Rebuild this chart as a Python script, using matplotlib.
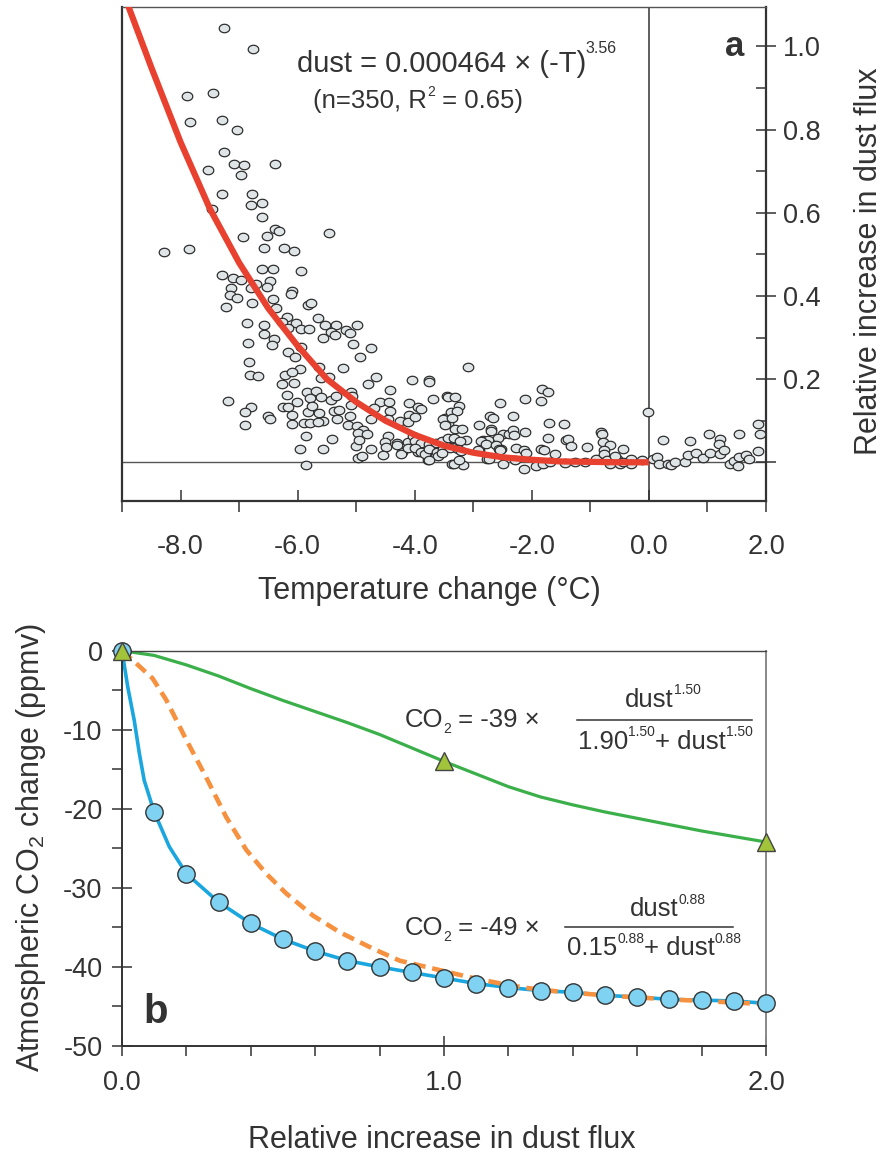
import numpy as np
import matplotlib
matplotlib.use('Agg')
import matplotlib.pyplot as plt
from matplotlib.transforms import ScaledTranslation

plt.rcParams['font.family'] = ['Liberation Sans', 'DejaVu Sans']
plt.rcParams['mathtext.fontset'] = 'custom'
plt.rcParams['mathtext.rm'] = 'Liberation Sans'
plt.rcParams['mathtext.default'] = 'regular'
plt.rcParams['text.color'] = '#333333'
plt.rcParams['xtick.color'] = '#333333'
plt.rcParams['ytick.color'] = '#333333'

temp_obs = [
    -7.25, -6.76, -7.89, -7.44, -7.83, -7.30, -7.03, -7.26, -7.08, -6.91,
    -6.39, -7.53, -6.96, -7.30, -6.78, -6.80, -6.60, -7.47, -6.60, -6.39,
    -6.31, -5.46, -6.94, -6.53, -8.29, -7.85, -6.57, -6.23, -6.07,
    -6.60, -6.42, -5.94, -7.30, -7.10, -6.96, -6.47, -6.71, -7.14, -6.80,
    -6.52, -6.09, -6.11, -7.16, -7.03, -6.42, -6.78, -5.82, -5.77, -7.23,
    -6.37, -5.66, -6.18, -6.87, -6.57, -6.26, -6.03, -6.16, -5.94, -5.80,
    -5.53, -5.34, -4.98, -5.43, -5.37, -5.57, -5.17, -5.10, -6.58, -6.41,
    -6.44, -6.84, -5.05, -4.75, -5.94, -6.16, -6.04, -4.93, -6.83, -5.96,
    -5.63, -5.23, -6.82, -6.68, -6.21, -6.10, -6.26, -6.07, -5.60, -5.46,
    -4.66, -4.80, -4.05, -3.76, -4.42, -5.84, -5.68, -6.18, -5.79, -5.60,
    -5.43, -5.34, -5.09, -5.07, -7.19, -6.01, -5.09, -4.59, -4.44, -4.09,
    -3.95, -3.69, -3.45, -6.80, -6.90, -6.25, -6.17, -5.83, -5.75, -5.38,
    -5.30, -5.64, -4.43, -4.70, -4.09, -3.89, -6.50, -6.47, -6.10, -5.10,
    -5.33, -5.57, -4.74, -4.45, -4.26, -4.12, -3.49, -3.43, -6.90, -6.10,
    -5.89, -5.79, -5.66, -5.14, -4.99, -4.89, -4.97, -4.82, -5.85, -5.41,
    -4.46, -4.50, -4.31, -4.12, -3.98, -5.00, -4.74, -4.49, -4.21, -3.95,
    -3.78, -5.96, -5.57, -4.54, -4.97, -3.78, -3.61, -5.85,
    -3.09, -3.75, -1.82, -1.73, -3.43, -3.31, -2.12, -1.85, -2.55, -3.25,
    -3.38, -3.27, -2.72, -2.66, -2.32, -3.52, -3.36, -3.48, -2.90, -2.69,
    -2.70, -3.32, -3.20, -1.70, -1.45, -2.12, -2.50, -2.39, -2.32, -2.58,
    -2.83, -2.74, -3.12, -1.72, -1.42, -1.38, -1.33, -0.82, -0.80, -0.79,
    -0.66, -1.05, -0.76, -0.45, -2.53, -2.27, -2.14, -1.85, -1.79, -1.61,
    -2.10, -2.90, -3.36, -3.78, -3.64, -2.77, -2.49, -3.36, -3.18, -2.14,
    -1.93, -1.81, -1.44, -1.27, -1.10, -0.90, -0.67, -0.55, -0.50, -0.30,
    -0.30, -0.01, 0.07, 0.13, 0.24, 0.17, 0.33, 0.38, 0.45, 0.61,
    0.66, 0.81, 0.70, 0.92, 1.02, 1.05, 1.21, 1.20, 1.21, 1.28,
    1.38, 1.45, 1.52, 1.54, 1.54, 1.66, 1.71, 1.86, 1.89, 1.87,
    -4.00, -4.95, -4.03, -4.00, -3.89, -3.76, -3.63, -3.53, -3.43, -3.33,
    -3.23, -4.30, -4.23, -4.12, -3.99, -3.89, -3.83, -3.75, -3.62, -3.52,
    -3.39, -3.26, -3.21, -2.92, -2.86, -2.79, -2.61, -2.56, -4.90, -3.61,
    -3.53, -3.75, -3.33, -3.25, -2.73, -2.31, -0.77, -2.55, -2.28, -1.69,
    -0.72, -0.58, -0.44, -0.12,
]
dust_obs = [
    1.045, 0.995, 0.880, 0.887, 0.819, 0.822, 0.800, 0.747, 0.717, 0.714,
    0.718, 0.703, 0.690, 0.646, 0.646, 0.618, 0.624, 0.610, 0.590, 0.560,
    0.556, 0.552, 0.541, 0.544, 0.505, 0.514, 0.516, 0.516, 0.509,
    0.466, 0.466, 0.461, 0.450, 0.444, 0.438, 0.436, 0.428, 0.419, 0.419,
    0.421, 0.412, 0.404, 0.403, 0.394, 0.392, 0.382, 0.378, 0.382, 0.373,
    0.372, 0.346, 0.350, 0.334, 0.331, 0.337, 0.334, 0.323, 0.320, 0.320,
    0.329, 0.331, 0.331, 0.313, 0.305, 0.300, 0.318, 0.311, 0.309, 0.296,
    0.281, 0.287, 0.284, 0.276, 0.278, 0.265, 0.252, 0.252, 0.240, 0.224,
    0.228, 0.227, 0.210, 0.207, 0.210, 0.217, 0.188, 0.190, 0.202, 0.204,
    0.205, 0.189, 0.197, 0.197, 0.175, 0.169, 0.171, 0.161, 0.154, 0.157,
    0.150, 0.160, 0.170, 0.160, 0.147, 0.144, 0.137, 0.146, 0.144, 0.142,
    0.134, 0.152, 0.160, 0.133, 0.122, 0.133, 0.133, 0.122, 0.136, 0.123,
    0.125, 0.118, 0.124, 0.130, 0.114, 0.128, 0.112, 0.104, 0.114, 0.112,
    0.103, 0.100, 0.103, 0.103, 0.100, 0.097, 0.106, 0.094, 0.090, 0.092,
    0.094, 0.094, 0.097, 0.090, 0.088, 0.078, 0.070, 0.068, 0.064, 0.056,
    0.062, 0.049, 0.046, 0.049, 0.049, 0.038, 0.031, 0.036, 0.024, 0.025,
    0.036, 0.031, 0.031, 0.018, 0.010, 0.006, 0.018, -0.007,
    0.230, 0.194, 0.176, 0.168, 0.156, 0.156, 0.153, 0.147, 0.142, 0.136,
    0.120, 0.123, 0.112, 0.106, 0.112, 0.104, 0.106, 0.090, 0.090, 0.081,
    0.075, 0.080, 0.081, 0.094, 0.091, 0.072, 0.067, 0.067, 0.077, 0.058,
    0.053, 0.053, 0.054, 0.058, 0.053, 0.057, 0.038, 0.072, 0.069, 0.049,
    0.041, 0.037, 0.029, 0.033, 0.033, 0.034, 0.030, 0.033, 0.030, 0.021,
    0.023, 0.030, 0.037, 0.017, 0.017, 0.007, -0.003, -0.003, -0.006, -0.015,
    -0.008, -0.003, -0.002, 0.000, 0.000, 0.008, -0.003, 0.008, -0.003, 0.008,
    -0.003, 0.120, 0.008, 0.013, 0.053, -0.005, -0.003, -0.007, 0.000, 0.000,
    0.017, 0.023, 0.050, 0.011, 0.067, 0.023, 0.057, 0.045, 0.021, 0.029,
    -0.005, 0.003, -0.010, 0.067, 0.013, 0.017, 0.008, 0.091, 0.067, 0.027,
    0.108, 0.053, 0.064, 0.052, 0.047, 0.044, 0.046, 0.050, 0.058, 0.059,
    0.052, 0.042, 0.020, 0.034, 0.034, 0.025, 0.019, 0.033, 0.025, 0.033,
    0.035, 0.031, 0.027, 0.029, 0.050, 0.043, 0.041, 0.033, 0.014, 0.015,
    0.022, 0.006, -0.005, 0.006, 0.009, 0.065, 0.021, 0.029, 0.005, 0.001,
    0.006, 0.014, 0.001, 0.005,
]

# power-law fit
fit_temp = [-8.9, -8.5, -8.0, -7.5, -7.0, -6.5, -6.0, -5.5, -5.0, -4.5,
            -4.0, -3.5, -3.0, -2.5, -2.0, -1.5, -1.0, -0.5, 0.0]
fit_dust = [1.10, 0.95, 0.77, 0.61, 0.48, 0.37, 0.28, 0.20, 0.145, 0.10,
            0.066, 0.040, 0.023, 0.012, 0.006, 0.002, 0.001, 0.0, 0.0]

# ---- panel b: CO2 response to dust
blue_line_x = [0.0, 0.018, 0.038, 0.054, 0.069, 0.1, 0.147, 0.2, 0.3, 0.4, 0.5,
               0.6, 0.7, 0.8, 0.9, 1.0, 1.1, 1.2, 1.3, 1.4, 1.5, 1.6, 1.7,
               1.8, 1.9, 2.0]
blue_line_y = [0.0, -4.6, -8.8, -13.0, -16.4, -20.4, -24.8, -28.2, -31.8, -34.5,
               -36.5, -38.0, -39.2, -40.0, -40.7, -41.4, -42.1, -42.6, -43.0,
               -43.2, -43.6, -43.8, -44.1, -44.2, -44.3, -44.6]
circle_x = [0.0, 0.1, 0.2, 0.3, 0.4, 0.5, 0.6, 0.7, 0.8, 0.9, 1.0,
            1.1, 1.2, 1.3, 1.4, 1.5, 1.6, 1.7, 1.8, 1.9, 2.0]
circle_y = [0.0, -20.4, -28.2, -31.8, -34.5, -36.5, -38.0, -39.2, -40.0, -40.7,
            -41.4, -42.1, -42.6, -43.0, -43.2, -43.6, -43.8, -44.1, -44.2,
            -44.3, -44.6]
green_x = [0.0, 0.1, 0.2, 0.3, 0.4, 0.5, 0.6, 0.7, 0.8, 0.9, 1.0,
           1.1, 1.2, 1.3, 1.4, 1.5, 1.6, 1.7, 1.8, 1.9, 2.0]
green_y = [0.0, -0.6, -1.8, -3.2, -4.8, -6.3, -7.7, -9.1, -10.6, -12.3, -14.0,
           -15.6, -17.2, -18.5, -19.5, -20.4, -21.2, -22.0, -22.8, -23.5, -24.2]
triangle_x = [0.0, 1.0, 2.0]
triangle_y = [0.0, -14.0, -24.2]
orange_x = [0.0, 0.044, 0.095, 0.137, 0.2, 0.26, 0.323, 0.386, 0.448, 0.51,
            0.593, 0.676, 0.78, 0.862, 0.966, 1.08, 1.2, 1.3, 1.5, 1.7, 2.0]
orange_y = [0.0, -1.6, -3.5, -6.2, -11.3, -15.9, -21.0, -25.2, -28.2, -30.7,
            -33.5, -35.6, -37.7, -39.2, -40.2, -41.3, -42.3, -42.9, -43.6,
            -44.1, -44.7]

dark = '#333333'
tick_size = 19.5
label_size = 22

fig = plt.figure(figsize=(8.82, 11.58), dpi=100)
ax_a = fig.add_axes([0.1383, 0.5674, 0.7302, 0.4266])
ax_b = fig.add_axes([0.1383, 0.0967, 0.7302, 0.3414])
renderer = fig.canvas.get_renderer()


def rich_text(ax, x, y, parts, ha='left'):
    """Pieces of text (string, size, rise in pt) laid out one after another
    on a shared baseline, so super/subscripts can be smaller than mathtext's."""
    items = []
    for s, size, rise in parts:
        t = ax.text(x, y, s, fontsize=size, ha='left', va='baseline')
        items.append((t, rise, t.get_window_extent(renderer).width))
    total = sum(w for _, _, w in items)
    shift = -total / 2 if ha == 'center' else 0.0
    for t, rise, w in items:
        t.set_transform(ax.transData + ScaledTranslation(
            shift / fig.dpi, rise / 72, fig.dpi_scale_trans))
        shift += w


# ----------------------------------------------------------------- panel a
theta = np.linspace(0, 2 * np.pi, 41)
ellipse = np.column_stack([np.cos(theta), 0.8 * np.sin(theta)])

ax_a.axhline(0, color='#555555', lw=1.0, zorder=1)
ax_a.axvline(0, color=dark, lw=1.1, zorder=1)
ax_a.scatter(temp_obs, dust_obs, marker=ellipse, s=58, facecolor='#dfe4e7',
             edgecolor='#2f2f2f', linewidths=0.9, zorder=3)
ax_a.plot(fit_temp, fit_dust, color='#e8412f', lw=4.5, zorder=4,
          solid_capstyle='butt')

ax_a.set_xlim(-9, 2)
ax_a.set_ylim(-0.093, 1.095)

ax_a.yaxis.tick_right()
ax_a.set_yticks([0, 0.2, 0.4, 0.6, 0.8, 1.0])
ax_a.set_yticklabels(['', '0.2', '0.4', '0.6', '0.8', '1.0'])
ax_a.set_yticks([0.1, 0.3, 0.5, 0.7, 0.9], minor=True)
ax_a.tick_params(axis='y', which='major', direction='inout', length=14,
                 width=1.1, pad=5, labelsize=tick_size)
ax_a.tick_params(axis='y', which='minor', direction='in', length=7, width=1.1)

ax_a.xaxis.remove_overlapping_locs = False
ax_a.set_xticks([-8, -6, -4, -2, 0, 2])
ax_a.set_xticklabels(['-8.0', '-6.0', '-4.0', '-2.0', '0.0', '2.0'])
ax_a.set_xticks([-9, -7, -5, -3, -1, 1, 2], minor=True)
ax_a.tick_params(axis='x', which='major', direction='in', length=8,
                 width=1.1, pad=24, labelsize=tick_size)
ax_a.tick_params(axis='x', which='minor', direction='out', length=8, width=1.1)

for side in ['left', 'bottom', 'right']:
    ax_a.spines[side].set_color(dark)
    ax_a.spines[side].set_linewidth(1.6)
ax_a.spines['top'].set_color('#555555')
ax_a.spines['top'].set_linewidth(1.0)

rich_text(ax_a, -3.28, 0.9375,
          [('dust = 0.000464 × (-T)', 21, 0), ('3.56', 11.5, 14)], ha='center')
rich_text(ax_a, -3.94, 0.853,
          [('(n=350, R', 18.5, 0), ('2', 10, 8), (' = 0.65)', 18.5, 0)],
          ha='center')
ax_a.text(1.47, 1.0, 'a', ha='center', va='center', fontsize=25,
          fontweight='bold')

fig.text(0.4865, 0.4896, 'Temperature change (°C)', ha='center', va='center',
         fontsize=label_size)
fig.text(0.9855, 0.7745, 'Relative increase in dust flux', ha='center',
         va='center', rotation=90, fontsize=label_size)

# ----------------------------------------------------------------- panel b
ax_b.plot(green_x, green_y, color='#3bb04a', lw=2.3, zorder=2)
ax_b.plot(blue_line_x, blue_line_y, color='#1aa6de', lw=2.6, zorder=2)
ax_b.plot(orange_x, orange_y, color='#f6913f', lw=3.3, ls=(0, (2.7, 1.5)),
          zorder=3)
ax_b.plot(circle_x, circle_y, ls='none', marker='o', ms=12.5,
          mfc='#7fd2f1', mec=dark, mew=1.0, zorder=4, clip_on=False)
ax_b.plot(triangle_x, triangle_y, ls='none', marker='^', ms=13,
          mfc='#a2c43b', mec='#444444', mew=1.0, zorder=5, clip_on=False)

ax_b.set_xlim(0, 2)
ax_b.set_ylim(-50, 0)

ax_b.set_xticks([0, 1, 2])
ax_b.set_xticklabels(['0.0', '1.0', '2.0'])
ax_b.set_xticks([0.2, 0.4, 0.6, 0.8, 1.2, 1.4, 1.6, 1.8], minor=True)
ax_b.tick_params(axis='x', which='major', direction='inout', length=14,
                 width=1.1, pad=10, labelsize=tick_size)
ax_b.tick_params(axis='x', which='minor', direction='out', length=7, width=1.1)

ax_b.set_yticks([0, -10, -20, -30, -40, -50])
ax_b.set_yticklabels(['0', '-10', '-20', '-30', '-40', '-50'])
ax_b.set_yticks([-5, -15, -25, -35, -45], minor=True)
ax_b.tick_params(axis='y', which='major', direction='inout', length=14,
                 width=1.1, pad=7, labelsize=tick_size)
ax_b.tick_params(axis='y', which='minor', direction='out', length=7, width=1.1)

ax_b.spines['left'].set_color(dark)
ax_b.spines['left'].set_linewidth(1.4)
ax_b.spines['bottom'].set_color(dark)
ax_b.spines['bottom'].set_linewidth(1.4)
ax_b.spines['top'].set_color('#444444')
ax_b.spines['top'].set_linewidth(1.0)
ax_b.spines['right'].set_color('#888888')
ax_b.spines['right'].set_linewidth(1.4)

eq_size = 18.5
sup_size = 10

# green equation
rich_text(ax_b, 0.878, -9.7,
          [('CO', eq_size, 0), ('2', sup_size, -4), (' = -39 ×', eq_size, 0)])
ax_b.plot([1.413, 1.957], [-8.77, -8.77], color=dark, lw=1.1)
rich_text(ax_b, 1.68, -7.1,
          [('dust', eq_size, 0), ('1.50', sup_size, 9)], ha='center')
rich_text(ax_b, 1.687, -12.4,
          [('1.90', eq_size, 0), ('1.50', sup_size, 9), ('+ dust', eq_size, 0),
           ('1.50', sup_size, 9)], ha='center')

# blue equation
rich_text(ax_b, 0.878, -36.0,
          [('CO', eq_size, 0), ('2', sup_size, -4), (' = -49 ×', eq_size, 0)])
ax_b.plot([1.376, 1.897], [-35.0, -35.0], color=dark, lw=1.1)
rich_text(ax_b, 1.696, -33.6,
          [('dust', eq_size, 0), ('0.88', sup_size, 9)], ha='center')
rich_text(ax_b, 1.653, -38.5,
          [('0.15', eq_size, 0), ('0.88', sup_size, 9), ('+ dust', eq_size, 0),
           ('0.88', sup_size, 9)], ha='center')

ax_b.text(0.104, -45.7, 'b', ha='center', va='center', fontsize=29,
          fontweight='bold')

fig.text(0.035, 0.268, 'Atmospheric CO$_2$ change (ppmv)', ha='center',
         va='center', rotation=90, fontsize=label_size)
fig.text(0.501, 0.0155, 'Relative increase in dust flux', ha='center',
         va='center', fontsize=label_size)

fig.savefig('out.png', dpi=100)
